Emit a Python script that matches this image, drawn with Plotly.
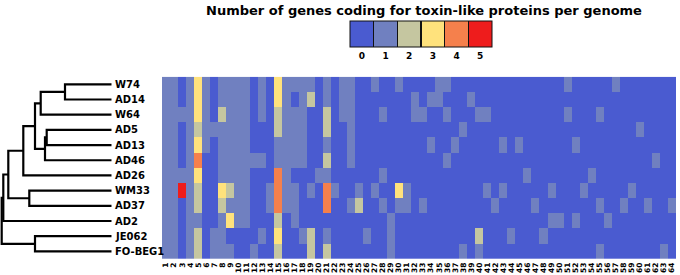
import plotly.graph_objects as go

# ---------------- data ----------------
genomes = ["W74", "AD14", "W64", "AD5", "AD13", "AD46", "AD26",
           "WM33", "AD37", "AD2", "JE062", "FO-BEG1"]
column_labels = [str(i) for i in range(1, 65)]

W74 = [1,1,0,1,3,1,0,1,1,1, 1,0,1,0,3,1,1,1,1,0, 1,0,1,1,0,0,1,0,0,1, 0,0,0,0,1,1,0,0,0,0,
       0,0,0,0,0,0,0,0,0,0, 1,0,0,0,0,0,1,0,0,0, 0,0,0,0]
AD14 = [1,1,0,1,3,1,0,1,1,1, 1,0,1,0,3,1,0,1,2,0, 1,0,1,1,0,0,0,0,0,0, 0,1,0,1,1,0,0,0,1,0,
        0,0,0,0,0,0,0,0,0,0, 0,0,0,0,0,0,0,0,0,0, 0,0,0,0]
W64 = [1,1,1,1,3,1,0,2,1,1, 1,0,1,0,2,1,1,1,0,0, 2,0,1,1,0,0,0,1,0,0, 0,1,1,0,0,1,0,0,0,1,
       1,0,0,0,0,0,0,0,0,0, 1,0,0,0,1,0,0,0,0,0, 0,0,0,0]
AD5 = [1,1,0,1,2,1,1,1,1,1, 1,0,0,0,2,1,1,1,0,0, 2,0,0,1,0,0,0,0,0,0, 0,0,0,0,0,0,0,1,0,0,
       0,0,0,0,0,0,0,0,0,0, 0,0,0,0,0,0,0,0,0,1, 0,0,0,0]
AD13 = [1,1,0,1,3,1,0,1,1,1, 1,0,0,0,1,1,1,1,0,0, 1,0,0,1,0,0,0,0,0,0, 0,0,0,1,0,0,1,0,0,0,
        0,0,1,0,1,0,0,0,0,0, 0,1,0,0,0,0,0,0,0,0, 0,0,0,0]
AD46 = [1,1,0,1,4,0,0,1,1,1, 1,1,1,0,1,1,1,1,0,0, 2,0,0,1,0,0,0,0,0,0, 0,0,0,0,0,1,0,0,0,0,
        0,0,0,0,0,0,0,0,0,0, 0,0,0,0,0,0,0,0,0,0, 0,1,0,0]
AD26 = [1,1,1,1,3,0,0,1,1,1, 1,0,0,0,4,1,0,0,0,1, 1,0,0,0,0,0,0,1,0,0, 0,0,0,0,0,0,0,0,0,0,
        0,0,0,0,0,1,0,0,0,0, 0,0,0,1,0,0,0,0,0,0, 0,0,0,0]
WM33 = [1,1,5,1,2,0,0,3,2,1, 1,0,0,1,4,1,1,0,1,0, 4,1,0,0,1,0,1,0,0,3, 1,0,0,0,0,0,0,0,0,0,
        1,0,1,0,0,0,0,0,1,0, 0,0,1,0,0,0,0,0,1,0, 0,0,0,0]
AD37 = [1,1,0,1,2,0,0,2,1,1, 1,0,0,1,4,1,1,0,0,0, 4,0,0,1,2,0,0,1,0,1, 1,0,1,0,0,0,0,0,0,0,
        0,1,0,0,0,0,1,0,0,0, 0,0,0,0,1,0,0,1,0,0, 1,0,0,1]
AD2 = [1,1,0,1,1,0,0,1,3,1, 1,0,0,0,2,0,1,0,0,0, 0,0,0,0,0,0,0,0,1,0, 0,0,0,0,0,0,0,0,0,0,
       0,0,0,0,0,0,0,0,1,1, 0,1,0,0,0,1,0,0,0,0, 0,0,0,0]
JE062 = [1,1,0,1,2,0,1,1,0,0, 0,0,1,0,3,0,0,1,2,0, 1,0,0,0,0,1,0,0,1,0, 0,0,0,0,0,0,0,0,0,2,
         0,0,0,1,0,0,0,1,0,0, 0,0,0,0,0,0,0,0,0,0, 0,0,0,0]
FO_BEG1 = [1,1,0,1,2,0,1,1,1,0, 0,1,0,0,2,0,0,0,2,0, 2,0,0,0,0,0,0,0,1,0, 0,0,0,0,0,0,0,1,0,1,
           0,0,0,0,0,0,0,0,0,0, 0,0,0,0,1,0,0,0,0,0, 0,0,1,0]

counts = [W74, AD14, W64, AD5, AD13, AD46, AD26, WM33, AD37, AD2, JE062, FO_BEG1]

# dendrogram: merges (child a, child b) and merge distances
link_children = [("W74", "AD14"), ("n0", "W64"), ("AD5", "AD13"), ("n2", "AD46"),
                 ("n1", "n3"), ("n4", "AD26"), ("WM33", "AD37"), ("n5", "n6"),
                 ("n7", "AD2"), ("JE062", "FO-BEG1"), ("n8", "n9")]
link_heights = [46.7, 71.0, 65.0, 66.7, 76.7, 88.4, 82.4, 103.4, 108.4, 76.7, 110.0]

scale_values = [0, 1, 2, 3, 4, 5]
scale_colors = ["#4a5bd0", "#7080c0", "#c5c6a0", "#ffe27c", "#f5804c", "#ee1c1c"]

# ---------------- build ----------------
n = len(scale_colors)
eps = 0.005
cs = []
for k, c in enumerate(scale_colors):
    lo, hi = k / n, (k + 1) / n
    if k > 0:
        cs.append([lo, "#111111"])
        cs.append([lo + eps, "#111111"])
        cs.append([lo + eps, c])
    else:
        cs.append([lo, c])
    if k < n - 1:
        cs.append([hi - eps, c])
        cs.append([hi - eps, "#111111"])
    else:
        cs.append([hi, c])

W, H = 680, 275
hx0, hx1 = 162, 676
hy_top, hy_bot = 76.7, 259.0
ydom = [(H - hy_bot) / H, (H - hy_top) / H]

fig = go.Figure()
fig.add_trace(go.Heatmap(
    z=counts, x=list(range(len(column_labels))), y=list(range(len(genomes))),
    colorscale=cs, zmin=-0.5, zmax=5.5, hoverongaps=False,
    colorbar=dict(orientation="h", x=421 / W, xanchor="center", y=(H - 21) / H, yanchor="top",
                  len=142, lenmode="pixels", thickness=26, thicknessmode="pixels",
                  outlinewidth=1, outlinecolor="#111111", xpad=0, ypad=0,
                  tickvals=scale_values, ticktext=[str(v) for v in scale_values], ticks="",
                  tickfont=dict(family="DejaVu Sans", size=9, color="black", weight="bold")),
))

# dendrogram lines
pos = {g: i for i, g in enumerate(genomes)}
hgt = {g: 0.0 for g in genomes}
xs, ys = [], []
for i, ((a, b), h) in enumerate(zip(link_children, link_heights)):
    ya, yb = pos[a], pos[b]
    xs += [hgt[a], h, h, hgt[b], None]
    ys += [ya, ya, yb, yb, None]
    pos["n%d" % i] = (ya + yb) / 2
    hgt["n%d" % i] = h
fig.add_trace(go.Scatter(x=xs, y=ys, mode="lines", xaxis="x2", yaxis="y2",
                         line=dict(color="black", width=2.2), hoverinfo="skip",
                         showlegend=False))

for i, g in enumerate(genomes):
    fig.add_annotation(text=g, x=113 / W, xref="paper", xanchor="left",
                       y=i, yref="y", yanchor="middle", showarrow=False,
                       font=dict(family="DejaVu Sans", size=10, color="black", weight="bold"))

fig.update_layout(
    width=W, height=H, margin=dict(l=0, r=0, t=0, b=0, autoexpand=False),
    paper_bgcolor="white", plot_bgcolor="white", showlegend=False,
    title=dict(text="Number of genes coding for toxin-like proteins per genome",
               x=424 / W, xanchor="center", y=(H - 10) / H, yanchor="middle",
               font=dict(family="DejaVu Sans", size=13, color="black", weight="bold")),
    xaxis=dict(domain=[hx0 / W, hx1 / W], range=[-0.5, 63.5], anchor="y",
               tickmode="array", tickvals=list(range(len(column_labels))), ticktext=column_labels,
               tickangle=-90, ticks="", showgrid=False, zeroline=False, showline=False,
               ticklabelstandoff=1,
               tickfont=dict(family="DejaVu Sans", size=7.5, color="black", weight="bold")),
    yaxis=dict(domain=ydom, range=[11.5, -0.5], showticklabels=False, showgrid=False,
               zeroline=False, ticks="", anchor="x"),
    xaxis2=dict(domain=[0, 111.7 / W], range=[111.7, 0], visible=False, anchor="y2"),
    yaxis2=dict(domain=ydom, range=[11.5, -0.5], visible=False, anchor="x2"),
)

fig.write_html("out.html", config={"displayModeBar": False},
               post_script="document.body.style.margin='0';document.body.style.overflow='hidden';")
